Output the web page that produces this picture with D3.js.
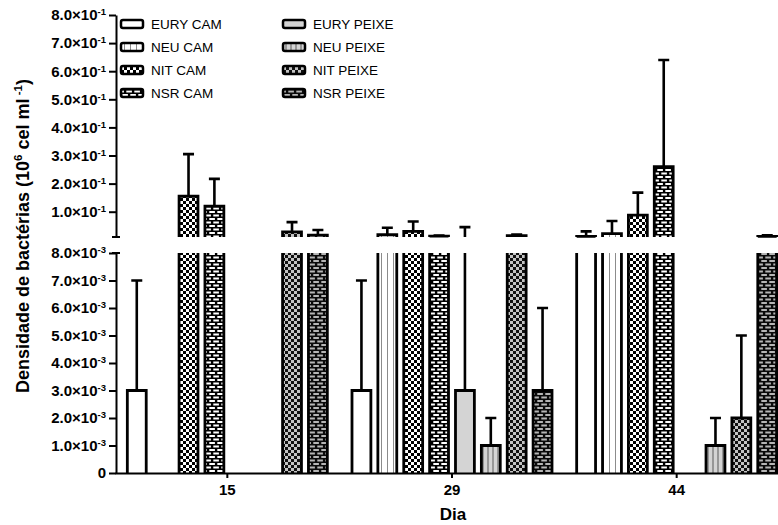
<!DOCTYPE html>
<html>
<head>
<meta charset="utf-8">
<script src="https://cdn.jsdelivr.net/npm/d3@7"></script>
<style>
  body { margin: 0; background: #fff; }
  text { font-family: "Liberation Sans", Arial, sans-serif; }
</style>
</head>
<body>
<div id="chart"></div>
<script>
// data
const days = ["15", "29", "44"];
const seriesNames = ["EURY CAM", "NEU CAM", "NIT CAM", "NSR CAM", "EURY PEIXE", "NEU PEIXE", "NIT PEIXE", "NSR PEIXE"];
const means15 = [0.003, 0, 0.155, 0.12, 0, 0, 0.028, 0.017];
const sd15 = [0.004, 0, 0.15, 0.097, 0, 0, 0.035, 0.018];
const means29 = [0.003, 0.018, 0.03, 0.013, 0.003, 0.001, 0.015, 0.003];
const sd29 = [0.004, 0.025, 0.035, 0.002, 0.042, 0.001, 0.004, 0.003];
const means44 = [0.012, 0.022, 0.088, 0.26, 0, 0.001, 0.002, 0.012];
const sd44 = [0.018, 0.045, 0.08, 0.38, 0, 0.001, 0.003, 0.004];
const lowTicks = [0, 0.001, 0.002, 0.003, 0.004, 0.005, 0.006, 0.007, 0.008];
const highTicks = [0.1, 0.2, 0.3, 0.4, 0.5, 0.6, 0.7, 0.8];

const meansByDay = [means15, means29, means44];
const sdByDay = [sd15, sd29, sd44];

const width = 778, height = 525;
const axisX = 116;
const lowMax = 0.008, highMin = 0.01;

const svg = d3.select("#chart").append("svg")
  .attr("width", width)
  .attr("height", height);

// fill patterns
const defs = svg.append("defs");
function vlines(id, bg, line, w) {
  const p = defs.append("pattern").attr("id", id).attr("patternUnits", "userSpaceOnUse")
    .attr("width", w).attr("height", 6);
  p.append("rect").attr("width", w).attr("height", 6).attr("fill", bg);
  p.append("rect").attr("x", w / 2).attr("width", 1).attr("height", 6).attr("fill", line);
}
function checks(id, light, dark) {
  const p = defs.append("pattern").attr("id", id).attr("patternUnits", "userSpaceOnUse")
    .attr("width", 6).attr("height", 6);
  p.append("rect").attr("width", 6).attr("height", 6).attr("fill", light);
  p.append("rect").attr("width", 3).attr("height", 3).attr("fill", dark);
  p.append("rect").attr("x", 3).attr("y", 3).attr("width", 3).attr("height", 3).attr("fill", dark);
}
function bricks(id, brick, mortar) {
  const p = defs.append("pattern").attr("id", id).attr("patternUnits", "userSpaceOnUse")
    .attr("width", 8).attr("height", 7);
  p.append("rect").attr("width", 8).attr("height", 7).attr("fill", mortar);
  p.append("rect").attr("x", 1.3).attr("y", 1).attr("width", 5.6).attr("height", 2).attr("fill", brick);
  p.append("rect").attr("x", -2.7).attr("y", 4.5).attr("width", 5.6).attr("height", 2).attr("fill", brick);
  p.append("rect").attr("x", 5.3).attr("y", 4.5).attr("width", 5.6).attr("height", 2).attr("fill", brick);
}
vlines("neuCam", "#fff", "#8c8c8c", 6);
checks("nitCam", "#fff", "#000");
bricks("nsrCam", "#fff", "#000");
vlines("neuPeixe", "#d4d4d4", "#5a5a5a", 5);
checks("nitPeixe", "#c4c4c4", "#111");
bricks("nsrPeixe", "#b5b5b5", "#0a0a0a");
const fills = ["#fff", "url(#neuCam)", "url(#nitCam)", "url(#nsrCam)",
  "#d4d4d4", "url(#neuPeixe)", "url(#nitPeixe)", "url(#nsrPeixe)"];
const color = d3.scaleOrdinal().domain(seriesNames).range(fills);

// scales
const x0 = d3.scaleBand().domain(days).range([115, 789]);
const x1 = d3.scaleBand().domain(seriesNames).range([-100, 100]).paddingInner(0.27);
const yLow = d3.scaleLinear().domain([0, lowMax]).range([473, 253]);
const yHigh = d3.scaleLinear().domain([highMin, 0.8]).range([237, 15]).clamp(true);

const rows = [];
days.forEach((d, i) => seriesNames.forEach((s, j) => {
  rows.push({ day: d, name: s, mean: meansByDay[i][j], sd: sdByDay[i][j] });
}));
const bars = rows.filter(r => r.mean > 0);
const xl = r => x0(r.day) + x0.bandwidth() / 2 + x1(r.name);
const bw = x1.bandwidth();

// bars, lower segment
const lowG = svg.append("g");
lowG.selectAll("rect").data(bars).join("rect")
  .attr("x", xl)
  .attr("y", r => yLow(Math.min(r.mean, lowMax)))
  .attr("width", bw)
  .attr("height", r => yLow(0) - yLow(Math.min(r.mean, lowMax)))
  .attr("fill", r => color(r.name));
lowG.selectAll("path").data(bars).join("path")
  .attr("fill", "none").attr("stroke", "#000").attr("stroke-width", 2.8)
  .attr("d", r => {
    const a = xl(r), b = xl(r) + bw, y0 = yLow(0);
    if (r.mean > lowMax) return `M${a},${y0}V${yLow(lowMax)}M${b},${yLow(lowMax)}V${y0}`;
    return `M${a},${y0}V${yLow(r.mean)}H${b}V${y0}`;
  });

// bars, upper segment
const highBars = bars.filter(r => r.mean > lowMax);
const highG = svg.append("g");
highG.selectAll("rect").data(highBars).join("rect")
  .attr("x", xl)
  .attr("y", r => yHigh(r.mean))
  .attr("width", bw)
  .attr("height", r => yHigh(highMin) - yHigh(r.mean))
  .attr("fill", r => color(r.name));
highG.selectAll("path").data(highBars).join("path")
  .attr("fill", "none").attr("stroke", "#000").attr("stroke-width", 2.8)
  .attr("d", r => {
    const a = xl(r), b = xl(r) + bw, y0 = yHigh(highMin);
    return `M${a},${y0}V${yHigh(r.mean)}H${b}V${y0}`;
  });

// error bars (upper side only)
const errG = svg.append("g").attr("stroke", "#000").attr("stroke-width", 2.6).attr("fill", "none");
errG.selectAll("path").data(bars.filter(r => r.sd > 0)).join("path")
  .attr("d", r => {
    const cx = xl(r) + bw / 2, top = r.mean + r.sd, c = 5.5;
    let p = "";
    if (r.mean <= lowMax) {
      if (top <= lowMax) {
        return `M${cx},${yLow(r.mean)}V${yLow(top)}M${cx - c},${yLow(top)}H${cx + c}`;
      }
      p += `M${cx},${yLow(r.mean)}V${yLow(lowMax)}`;
      p += `M${cx},${yHigh(highMin)}V${yHigh(top)}`;
    } else {
      p += `M${cx},${yHigh(r.mean)}V${yHigh(top)}`;
    }
    return p + `M${cx - c},${yHigh(top)}H${cx + c}`;
  });

// axes
function sciLabels(exp, unit) {
  return g => g.selectAll(".tick text").each(function (d) {
    const t = d3.select(this).text(null);
    if (d === 0) { t.text("0"); return; }
    t.append("tspan").text((d / unit).toFixed(1) + "×10");
    t.append("tspan").attr("dy", -5).attr("font-size", 9.5).text(exp);
  });
}
function styleAxis(g) {
  g.selectAll("path, line").attr("stroke", "#000").attr("stroke-width", 2);
  g.selectAll("text").attr("font-size", 15).attr("font-weight", "bold").attr("fill", "#000")
    .attr("font-family", "'Liberation Sans', Arial, sans-serif");
}

svg.append("g")
  .attr("transform", `translate(${axisX},0)`)
  .call(d3.axisLeft(yLow).tickValues(lowTicks).tickSize(7).tickPadding(3).tickSizeOuter(0))
  .call(styleAxis)
  .call(sciLabels("-3", 0.001));

svg.append("g")
  .attr("transform", `translate(${axisX},0)`)
  .call(d3.axisLeft(yHigh).tickValues(highTicks).tickSize(7).tickPadding(3).tickSizeOuter(0))
  .call(styleAxis)
  .call(sciLabels("-1", 0.1));

// break marks on the y axis
svg.append("g").attr("stroke", "#000").attr("stroke-width", 2)
  .selectAll("line").data([yHigh(highMin), yLow(lowMax)]).join("line")
  .attr("x1", axisX - 4).attr("x2", axisX + 4)
  .attr("y1", d => d).attr("y2", d => d);

svg.append("g")
  .attr("transform", `translate(0,${yLow(0)})`)
  .call(d3.axisBottom(x0).tickSize(5).tickPadding(6).tickSizeOuter(0))
  .call(styleAxis);

// axis titles
svg.append("text")
  .attr("x", 453).attr("y", 520)
  .attr("text-anchor", "middle")
  .attr("font-size", 17).attr("font-weight", "bold")
  .text("Dia");

const yTitle = svg.append("text")
  .attr("transform", "translate(29,236) rotate(-90)")
  .attr("text-anchor", "middle")
  .attr("font-size", 18).attr("font-weight", "bold");
yTitle.append("tspan").text("Densidade de bactérias (10");
yTitle.append("tspan").attr("dy", -7).attr("font-size", 11.5).text("6");
yTitle.append("tspan").attr("dy", 7).text(" cel ml");
yTitle.append("tspan").attr("dy", -7).attr("font-size", 11.5).text(" -1");
yTitle.append("tspan").attr("dy", 7).text(")");

// legend
const legend = svg.append("g");
const legItems = legend.selectAll("g").data(seriesNames).join("g")
  .attr("transform", (d, i) => `translate(${i < 4 ? 121 : 283},${24 + (i % 4) * 23})`);
legItems.append("rect")
  .attr("x", 0).attr("y", -4).attr("width", 22).attr("height", 8).attr("rx", 2)
  .attr("fill", d => color(d)).attr("stroke", "#000").attr("stroke-width", 2.5);
legItems.append("text")
  .attr("x", 30).attr("y", 0).attr("dy", "0.35em")
  .attr("font-size", 13.5)
  .text(d => d);
</script>
</body>
</html>
